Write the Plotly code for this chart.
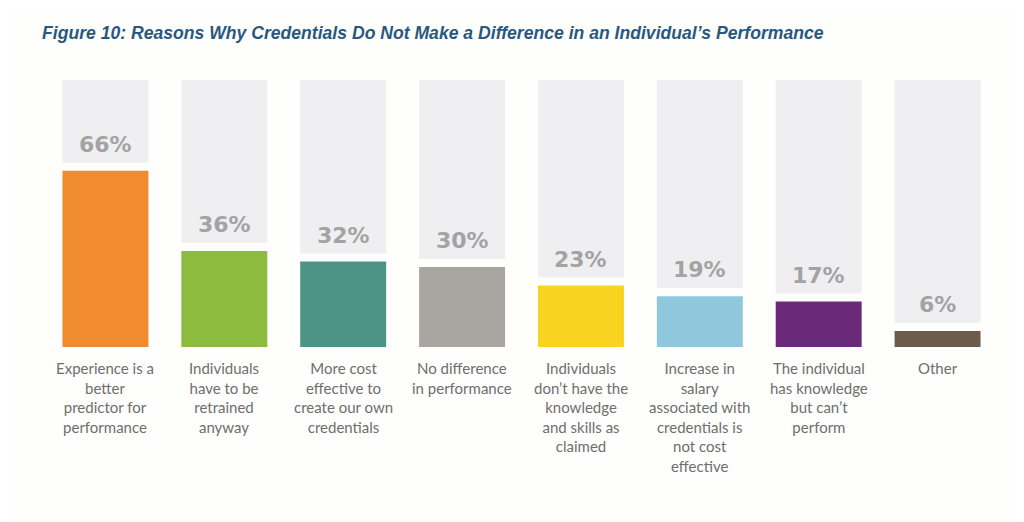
import plotly.graph_objects as go

categories = [
    "Experience is a<br>better<br>predictor for<br>performance",
    "Individuals<br>have to be<br>retrained<br>anyway",
    "More cost<br>effective to<br>create our own<br>credentials",
    "No difference<br>in performance",
    "Individuals<br>don’t have the<br>knowledge<br>and skills as<br>claimed",
    "Increase in<br>salary<br>associated with<br>credentials is<br>not cost<br>effective",
    "The individual<br>has knowledge<br>but can’t<br>perform",
    "Other",
]
values = [66, 36, 32, 30, 23, 19, 17, 6]
colors = ["#f08c2e", "#8cbb3d", "#4e9486", "#a9a5a0", "#f8d320", "#8fc8dc", "#6a2a79", "#6c5c4d"]
title = "Figure 10: Reasons Why Credentials Do Not Make a Difference in an Individual’s Performance"

gap = 3
xs = list(range(len(values)))

L, T, PW, PH = 37.5, 72, 952, 267

fig = go.Figure()
fig.add_trace(go.Bar(
    x=xs, y=[100 - v - gap for v in values], base=[v + gap for v in values],
    marker=dict(color="#efeff1", line=dict(width=0)), width=0.723, hoverinfo="skip",
))
fig.add_trace(go.Bar(
    x=xs, y=values, marker=dict(color=colors, line=dict(width=0)), width=0.723,
))

for i, v in enumerate(values):
    fig.add_annotation(x=i, y=v + gap, xref="x", yref="y", text=f"{v}%",
                       showarrow=False, yanchor="bottom", yshift=4,
                       font=dict(family="DejaVu Sans", size=22, color="#a3a3a3", weight="bold"))
    fig.add_annotation(x=i, y=0, xref="x", yref="y", text=categories[i],
                       showarrow=False, yanchor="top", yshift=-10,
                       font=dict(family="Lato", size=15, color="#6e6e6e"))

fig.add_annotation(xref="paper", yref="paper", x=(31 - L) / PW, y=(T + PH - 25) / PH,
                   text=f"<b><i>{title}</i></b>",
                   showarrow=False, xanchor="left", yanchor="middle",
                   font=dict(family="Liberation Sans", size=17.6, color="#28587f"))

fig.update_layout(
    width=1024, height=522, showlegend=False, barmode="overlay",
    margin=dict(l=L, r=1024 - L - PW, t=T, b=522 - T - PH, pad=0),
    paper_bgcolor="#fefefd", plot_bgcolor="#fefefd",
    xaxis=dict(range=[-0.5, 7.5], visible=False),
    yaxis=dict(range=[0, 100], visible=False),
)
fig.write_html("out.html")
